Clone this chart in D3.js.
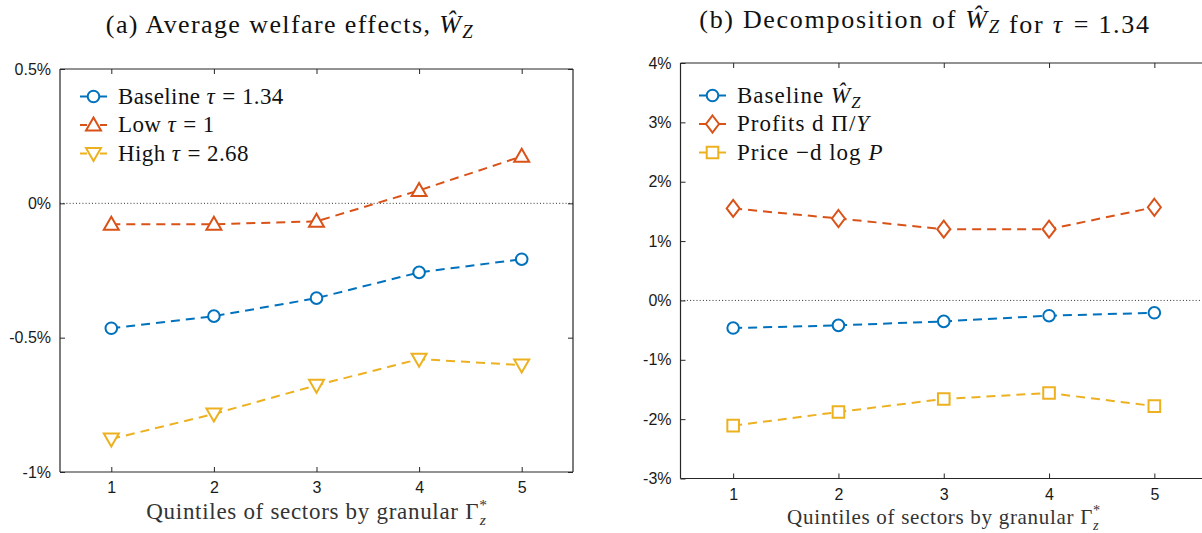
<!DOCTYPE html>
<html><head><meta charset="utf-8">
<script src="https://cdn.jsdelivr.net/npm/d3@7/dist/d3.min.js"></script>
<style>
html,body{margin:0;padding:0;background:#fff;}
svg{display:block;}
</style></head>
<body>
<svg id="chart" width="1202" height="533"></svg>
<script>
// ---- data ----
const quintiles = [1, 2, 3, 4, 5];

// Panel (a): average welfare effects (%)
const baselineA = [-0.465, -0.42, -0.353, -0.257, -0.208];
const lowTau    = [-0.078, -0.078, -0.067, 0.048, 0.175];
const highTau   = [-0.877, -0.784, -0.677, -0.58, -0.602];
const yTicksA   = [-1, -0.5, 0, 0.5];
const yLabelsA  = ["-1%", "-0.5%", "0%", "0.5%"];

// Panel (b): decomposition (%)
const baselineB = [-0.465, -0.42, -0.353, -0.257, -0.208];
const profits   = [1.55, 1.38, 1.2, 1.2, 1.57];
const price     = [-2.11, -1.88, -1.66, -1.56, -1.78];
const yTicksB   = [-3, -2, -1, 0, 1, 2, 3, 4];
const yLabelsB  = ["-3%", "-2%", "-1%", "0%", "1%", "2%", "3%", "4%"];

const C_BLUE = "#0072BD", C_ORANGE = "#D95319", C_YELLOW = "#EDB120";
const AX = "#262626";
const SERIF = "'Liberation Serif', 'DejaVu Serif', serif";
const SANS = "'Liberation Sans', Arial, sans-serif";

const svg = d3.select("#chart");

function marker(g, type, color, cx, cy) {
  let p;
  if (type === "circle") {
    p = g.append("circle").attr("cx", cx).attr("cy", cy).attr("r", 5.8);
  } else {
    let pts;
    if (type === "up") pts = [[0,-7.5],[7.5,5.5],[-7.5,5.5]];
    else if (type === "down") pts = [[0,7.5],[7.5,-5.5],[-7.5,-5.5]];
    else if (type === "diamond") pts = [[0,-8.5],[6.5,0],[0,8.5],[-6.5,0]];
    else if (type === "square") pts = [[-5.8,-5.8],[5.8,-5.8],[5.8,5.8],[-5.8,5.8]];
    p = g.append("polygon").attr("points", pts.map(d => [d[0]+cx, d[1]+cy].join(",")).join(" "));
  }
  p.attr("fill", "#fff").attr("stroke", color).attr("stroke-width", 2);
}

// math helpers
function it(t, s) { t.append("tspan").attr("font-style", "italic").text(s); }
function rm(t, s) { t.append("tspan").text(s); }
function eq(t, sp) { t.append("tspan").attr("dx", sp).text(" ="); }
function hatW(t) {
  t.append("tspan").attr("font-style", "italic").text("Ŵ");
  t.append("tspan").attr("font-style", "italic").attr("font-size", "0.72em").attr("dy", 5).text("Z");
  t.append("tspan").attr("dy", -5).text("");
}

function drawPanel(cfg) {
  const x = d3.scaleLinear().domain([0.5, 5.5]).range(cfg.xr);
  const y = d3.scaleLinear().domain(cfg.yd).range(cfg.yr);
  const g = svg.append("g");

  // zero dotted line
  g.append("line").attr("x1", cfg.xr[0]).attr("x2", cfg.xr[1])
    .attr("y1", y(0)).attr("y2", y(0))
    .attr("stroke", "#333").attr("stroke-width", 1).attr("stroke-dasharray", "1,2.2");

  // axes
  const tl = 5;
  const bottom = d3.axisBottom(x).tickValues(quintiles).tickSize(-tl).tickPadding(10).tickFormat(d3.format("d"));
  const top = d3.axisTop(x).tickValues(quintiles).tickSize(-tl).tickFormat("");
  const left = d3.axisLeft(y).tickValues(cfg.yTicks).tickSize(-tl).tickPadding(9)
    .tickFormat(d => cfg.yLabels[cfg.yTicks.indexOf(d)]);
  const right = d3.axisRight(y).tickValues(cfg.yTicks).tickSize(-tl).tickFormat("");

  const styleAx = sel => {
    sel.selectAll("path").attr("stroke", AX).attr("stroke-width", 1.2);
    sel.selectAll("line").attr("stroke", AX).attr("stroke-width", 1);
    sel.selectAll("text").attr("fill", "#1a1a1a").attr("font-family", SANS).attr("font-size", 16);
  };
  g.append("g").attr("transform", `translate(0,${cfg.yr[0]})`).call(bottom).call(styleAx).call(s => s.selectAll("path").attr("d", `M${cfg.xr[0]},0H${cfg.xr[1]}`));
  g.append("g").attr("transform", `translate(0,${cfg.yr[1]})`).call(top).call(styleAx).call(s => s.selectAll("path").attr("d", `M${cfg.xr[0]},0H${cfg.xr[1]}`));
  g.append("g").attr("transform", `translate(${cfg.xr[0]},0)`).call(left).call(styleAx).call(s => s.selectAll("path").attr("d", `M0,${cfg.yr[0]}V${cfg.yr[1]}`));
  g.append("g").attr("transform", `translate(${cfg.xr[1]},0)`).call(right).call(styleAx).call(s => s.selectAll("path").attr("d", `M0,${cfg.yr[0]}V${cfg.yr[1]}`));

  // series
  const line = d3.line().x((d, i) => x(quintiles[i])).y(d => y(d));
  cfg.series.forEach(s => {
    g.append("path").datum(s.values).attr("d", line)
      .attr("fill", "none").attr("stroke", s.color).attr("stroke-width", 2)
      .attr("stroke-dasharray", "9,6");
    s.values.forEach((v, i) => marker(g, s.marker, s.color, x(quintiles[i]), y(v)));
  });

  // legend
  cfg.series.forEach((s, i) => {
    const ly = cfg.legY + i * 28.5;
    const lx = cfg.legX;
    g.append("line").attr("x1", lx).attr("x2", lx + 7).attr("y1", ly).attr("y2", ly)
      .attr("stroke", s.color).attr("stroke-width", 2);
    g.append("line").attr("x1", lx + 20).attr("x2", lx + 27).attr("y1", ly).attr("y2", ly)
      .attr("stroke", s.color).attr("stroke-width", 2);
    marker(g, s.marker, s.color, lx + 13.5, ly);
    const t = g.append("text").attr("x", lx + 38).attr("y", ly + 7)
      .attr("font-family", SERIF).attr("font-size", 23).attr("letter-spacing", cfg.legLS).attr("fill", "#111");
    s.label(t);
  });

  // x label
  const xl = g.append("text").attr("x", cfg.xlabX).attr("y", cfg.xlabY)
    .attr("text-anchor", "middle").attr("font-family", SERIF)
    .attr("font-size", cfg.xlabSize).attr("letter-spacing", cfg.xlabLS).attr("fill", "#333");
  xl.append("tspan").text("Quintiles of sectors by granular Γ");
  xl.append("tspan").attr("font-size", cfg.xlabSize * 0.68).attr("dy", -9).text("*");
  xl.append("tspan").attr("font-size", cfg.xlabSize * 0.68).attr("font-style", "italic").attr("dx", -8).attr("dy", 15).text("z");

  // title
  const tt = g.append("text").attr("x", cfg.titleX).attr("y", cfg.titleY)
    .attr("text-anchor", "middle").attr("font-family", SERIF).attr("font-size", 26)
    .attr("letter-spacing", cfg.titleLS).attr("fill", "#111");
  cfg.title(tt);
}

drawPanel({
  xr: [60, 573], yd: [-1, 0.5], yr: [472, 69],
  yTicks: yTicksA, yLabels: yLabelsA,
  legX: 80, legY: 96.5, legLS: 0.4,
  xlabX: 317, xlabY: 519, xlabSize: 23, xlabLS: 0.7,
  titleX: 290, titleY: 33, titleLS: 1.4,
  title: t => { rm(t, "(a) Average welfare effects, "); hatW(t); },
  series: [
    { values: baselineA, color: C_BLUE, marker: "circle",
      label: t => { rm(t, "Baseline "); it(t, "τ"); eq(t, 1); rm(t, " 1.34"); } },
    { values: lowTau, color: C_ORANGE, marker: "up",
      label: t => { rm(t, "Low "); it(t, "τ"); eq(t, 1); rm(t, " 1"); } },
    { values: highTau, color: C_YELLOW, marker: "down",
      label: t => { rm(t, "High "); it(t, "τ"); eq(t, 1); rm(t, " 2.68"); } }
  ]
});

drawPanel({
  xr: [680.5, 1207], yd: [-3, 4], yr: [478.5, 63],
  yTicks: yTicksB, yLabels: yLabelsB,
  legX: 699, legY: 95.5, legLS: 1.0,
  xlabX: 944, xlabY: 524, xlabSize: 21, xlabLS: 0.7,
  titleX: 925, titleY: 28, titleLS: 1.7,
  title: t => { rm(t, "(b) Decomposition of "); hatW(t); rm(t, " for "); it(t, "τ"); eq(t, 2); rm(t, "  1.34"); },
  series: [
    { values: baselineB, color: C_BLUE, marker: "circle",
      label: t => { rm(t, "Baseline "); hatW(t); } },
    { values: profits, color: C_ORANGE, marker: "diamond",
      label: t => { rm(t, "Profits d Π/"); it(t, "Y"); } },
    { values: price, color: C_YELLOW, marker: "square",
      label: t => { rm(t, "Price −d log "); it(t, "P"); } }
  ]
});
</script>
</body></html>
